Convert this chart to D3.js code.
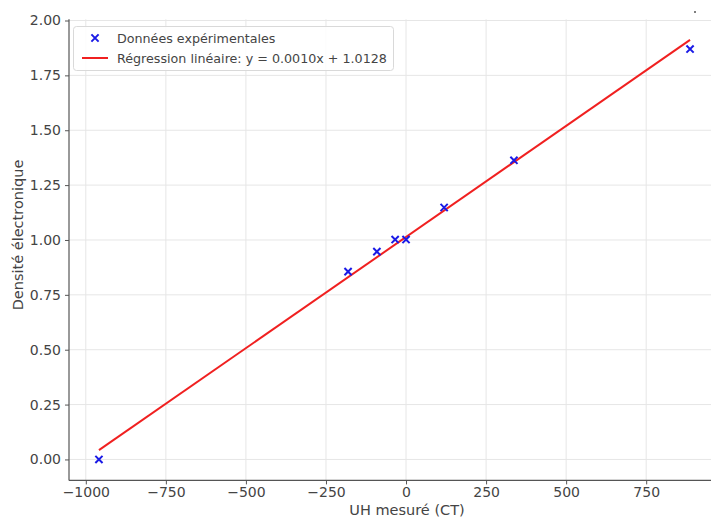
<!DOCTYPE html>
<html><head><meta charset="utf-8">
<script src="https://cdn.jsdelivr.net/npm/d3@7/dist/d3.min.js"></script>
<style>body{margin:0;background:#fff}svg{display:block;font-family:"DejaVu Sans",sans-serif}</style>
</head><body><svg id="c" width="711" height="518"></svg>
<script>
const uhValues = [-959, -181, -91, -34, 0, 119, 337, 887];
const densityValues = [0, 0.856, 0.947, 1.002, 1.002, 1.148, 1.363, 1.87];
const xTicks = [-1000, -750, -500, -250, 0, 250, 500, 750, 1000];
const yTicks = [0, 0.25, 0.5, 0.75, 1.0, 1.25, 1.5, 1.75, 2.0];
const legendLabels = ["Données expérimentales", "Régression linéaire: y = 0.0010x + 1.0128"];
const xLabel = "UH mesuré (CT)";
const yLabel = "Densité électronique";

// least-squares fit of the data
const n = uhValues.length;
const mx = d3.mean(uhValues), my = d3.mean(densityValues);
let sxy = 0, sxx = 0;
for (let i = 0; i < n; i++) { sxy += (uhValues[i]-mx)*(densityValues[i]-my); sxx += (uhValues[i]-mx)**2; }
const slope = sxy/sxx, intercept = my - slope*mx;

const L = 69, R = 720, T = 19.3, B = 480.4;
const x = d3.scaleLinear().domain([-1052.5, 980.5]).range([L, R]);
const y = d3.scaleLinear().domain([-0.0955, 2.0055]).range([B, T]);

const svg = d3.select("#c");
svg.append("defs").append("clipPath").attr("id","pc").append("rect")
  .attr("x",L).attr("y",T).attr("width",R-L).attr("height",B-T);

// grid
const g = svg.append("g");
g.selectAll(".gx").data(xTicks).enter().append("line")
  .attr("x1",d=>x(d)).attr("x2",d=>x(d)).attr("y1",T).attr("y2",B)
  .attr("stroke","#e6e6e6").attr("stroke-width",1);
g.selectAll(".gy").data(yTicks).enter().append("line")
  .attr("x1",L).attr("x2",R).attr("y1",d=>y(d)).attr("y2",d=>y(d))
  .attr("stroke","#e6e6e6").attr("stroke-width",1);

// axes
const xAxis = d3.axisBottom(x).tickValues(xTicks.filter(d=>x(d)<=711)).tickSize(4).tickPadding(3)
  .tickFormat(d=>d<0?"\u2212"+Math.abs(d):String(d));
const yAxis = d3.axisLeft(y).tickValues(yTicks).tickSize(4).tickPadding(4).tickFormat(d3.format(".2f"));
const gx = svg.append("g").attr("transform",`translate(0,${B})`).call(xAxis);
const gy = svg.append("g").attr("transform",`translate(${L},0)`).call(yAxis);
[gx,gy].forEach(a=>{
  a.select(".domain").remove();
  a.selectAll("line").attr("stroke","#555").attr("stroke-width",1);
  a.selectAll("text").attr("fill","#444").style("font-size","14px").style("font-family","DejaVu Sans, sans-serif");
});
svg.append("line").attr("x1",L).attr("x2",L).attr("y1",T).attr("y2",B).attr("stroke","#555").attr("stroke-width",1.2);
svg.append("line").attr("x1",L).attr("x2",R).attr("y1",B).attr("y2",B).attr("stroke","#555").attr("stroke-width",1.2);

// regression line
const xr = d3.extent(uhValues);
svg.append("line").attr("clip-path","url(#pc)")
  .attr("x1",x(xr[0])).attr("y1",y(slope*xr[0]+intercept))
  .attr("x2",x(xr[1])).attr("y2",y(slope*xr[1]+intercept))
  .attr("stroke","#f02020").attr("stroke-width",2);

// markers
const s = 3.6;
const mk = svg.append("g");
uhValues.forEach((u,i)=>{
  const cx = x(u), cy = y(densityValues[i]);
  mk.append("path").attr("d",`M${cx-s},${cy-s}L${cx+s},${cy+s}M${cx-s},${cy+s}L${cx+s},${cy-s}`)
    .attr("stroke","#1a1ae6").attr("stroke-width",2).attr("fill","none");
});

// axis labels
svg.append("text").attr("x",407).attr("y",515).attr("text-anchor","middle")
  .attr("fill","#444").style("font-size","14.5px").text(xLabel);
svg.append("text").attr("transform","translate(23,235) rotate(-90)").attr("text-anchor","middle")
  .attr("fill","#444").style("font-size","14.5px").text(yLabel);

// legend
const lg = svg.append("g");
lg.append("rect").attr("x",73.5).attr("y",26.5).attr("width",320).attr("height",44).attr("rx",3)
  .attr("fill","#fff").attr("fill-opacity",0.85).attr("stroke","#d9d9d9");
const lx = 95, ly1 = 38, ly2 = 58;
lg.append("path").attr("d",`M${lx-s},${ly1-s}L${lx+s},${ly1+s}M${lx-s},${ly1+s}L${lx+s},${ly1-s}`)
  .attr("stroke","#1a1ae6").attr("stroke-width",2);
lg.append("line").attr("x1",82).attr("x2",108).attr("y1",ly2).attr("y2",ly2).attr("stroke","#f02020").attr("stroke-width",2);
lg.selectAll("text").data(legendLabels).enter().append("text")
  .attr("x",117).attr("y",(d,i)=>i?ly2+4.5:ly1+4.5).attr("fill","#444").style("font-size","12.7px").text(d=>d);

svg.append("circle").attr("cx",695).attr("cy",12).attr("r",1).attr("fill","#555");
</script></body></html>
